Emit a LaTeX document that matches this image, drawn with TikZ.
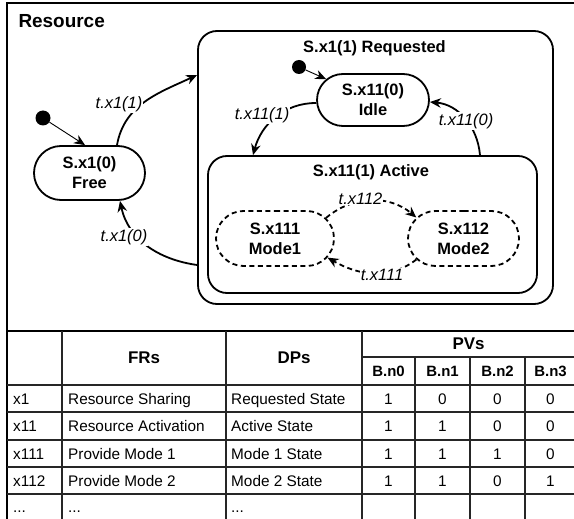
\documentclass[tikz,border=0pt]{standalone}
\usepackage{fontspec}
\setmainfont{Liberation Sans}
\usetikzlibrary{arrows.meta,calc,positioning,shapes.misc}
\definecolor{rsInk}{HTML}{000000}
\definecolor{rsGrid}{HTML}{262626}
\tikzset{
  rs frame/.style={draw=rsInk, line width=2.2bp},
  rs grid/.style={draw=rsGrid, line width=1.6bp},
  rs container/.style={draw=rsInk, line width=1.8bp, rounded corners=19bp, inner sep=0pt},
  rs state/.style={
    rounded rectangle,
    draw=rsInk,
    line width=1.8bp,
    inner sep=0pt,
    align=center,
    font=\bfseries\fontsize{16.5}{20}\selectfont
  },
  rs substate/.style={rs state, dash pattern=on 5bp off 3.5bp},
  rs initial/.style={circle, fill=rsInk, inner sep=0pt, minimum size=15bp},
  rs transition/.style={
    draw=rsInk,
    line width=1.8bp,
    -{Stealth[length=11bp,width=9.5bp]}
  },
  rs subtransition/.style={rs transition, dash pattern=on 5bp off 3.5bp},
  rs entry/.style={draw=rsInk, line width=0.9bp, -{Stealth[length=11bp,width=9.5bp]}},
  rs tlabel/.style={fill=white, inner sep=1bp, font=\itshape\fontsize{16.5}{20}\selectfont},
  rs title/.style={font=\bfseries\fontsize{19}{22}\selectfont},
  rs state title/.style={font=\bfseries\fontsize{16.5}{20}\selectfont},
  rs head/.style={font=\bfseries\fontsize{17}{20}\selectfont, inner sep=0pt},
  rs subhead/.style={font=\bfseries\fontsize{15}{18}\selectfont, text height=10.8bp, text depth=0pt, inner sep=0pt},
  rs cell/.style={font=\fontsize{15.4}{18}\selectfont, text height=11bp, text depth=0pt, inner sep=0pt}
}

\begin{document}
\begin{tikzpicture}[x=1bp,y=1bp]
  \useasboundingbox (0,0) rectangle (574,-519);
  % frame
  \draw[rs frame] (7,-525) -- (7,-3) -- (580,-3);
  \draw[rs frame] (7,-331) -- (580,-331);
  \node[rs title, anchor=base west] (title) at (15,-28) {Resource};

  % states
  \node[rs container, minimum width=355bp, minimum height=273bp] (requested) at (375.5,-167.5) {};
  \node[rs state title, anchor=base] (reqtitle) at (374.5,-53) {S.x1(1) Requested};
  \node[rs container, minimum width=329bp, minimum height=137bp] (active) at (372.5,-224.5) {};
  \node[rs state title, anchor=base] (acttitle) at (371,-177) {S.x11(1) Active};

  \node[rs state, minimum width=111bp, minimum height=54bp] (free) at (89.5,-173) {S.x1(0)\\Free};
  \node[rs state, minimum width=112bp, minimum height=52bp] (idle) at (373,-100) {S.x11(0)\\Idle};
  \node[rs substate, minimum width=118bp, minimum height=55bp] (mode1) at (275,-238.5) {S.x111\\Mode1};
  \node[rs substate, minimum width=111bp, minimum height=55bp] (mode2) at (463.5,-238.5) {S.x112\\Mode2};

  \node[rs initial] (init1) at (43,-118) {};
  \node[rs initial, minimum size=14bp] (init2) at (299,-67) {};
  \draw[rs entry] (init1) -- ([xshift=-4.5bp]free.north);
  \draw[rs entry] (init2) -- (idle);

  % transitions
  \draw[rs transition] ([xshift=27.5bp]free.north) to[out=80,in=205] ([yshift=92.5bp]requested.west);
  \node[rs tlabel] (tx1one) at (119,-104) {t.x1(1)};
  \draw[rs transition] ([yshift=-97.5bp]requested.west) to[out=172,in=-78] ([xshift=30.5bp]free.south);
  \node[rs tlabel] (tx1zero) at (124,-237) {t.x1(0)};
  \draw[rs transition] ([yshift=-3bp]idle.west) to[out=180,in=75] ([xshift=-119.5bp]active.north);
  \node[rs tlabel] (tx11one) at (262,-115) {t.x11(1)};
  \draw[rs transition] ([xshift=107.5bp]active.north) to[out=95,in=-5] ([yshift=-2bp]idle.east);
  \node[rs tlabel] (tx11zero) at (466,-121) {t.x11(0)};
  \draw[rs subtransition] (mode1.22) to[out=40,in=140] (mode2.156);
  \node[rs tlabel] (tx112) at (360.5,-198.5) {t.x112};
  \draw[rs subtransition] (mode2.204) to[out=-142,in=-30] (mode1.-20);
  \node[rs tlabel] (tx111) at (382,-275) {t.x111};

  % table grid
  \foreach \y in {385,412,440,467,494}
    \draw[rs grid] (7,-\y) -- (580,-\y);
  \draw[rs grid] (362,-357) -- (580,-357);
  \foreach \x in {62,226,362}
    \draw[rs grid] (\x,-331) -- (\x,-525);
  \foreach \x in {415,470,525}
    \draw[rs grid] (\x,-357) -- (\x,-525);

  % table text
  \node[rs head] (frs) at (144,-358) {FRs};
  \node[rs head] (dps) at (294,-358) {DPs};
  \node[rs head] (pvs) at (468.5,-344) {PVs};
  \node[rs subhead] (bn0) at (388.5,-371) {B.n0};
  \node[rs subhead] (bn1) at (442.5,-371) {B.n1};
  \node[rs subhead] (bn2) at (497.5,-371) {B.n2};
  \node[rs subhead] (bn3) at (550.5,-371) {B.n3};

  \foreach \y/\id/\frtext/\dptext/\va/\vb/\vc/\vd [count=\i] in {
    398.5/x1/Resource Sharing/Requested State/1/0/0/0,
    426/x11/Resource Activation/Active State/1/1/0/0,
    453.5/x111/Provide Mode 1/Mode 1 State/1/1/1/0,
    480.5/x112/Provide Mode 2/Mode 2 State/1/1/0/1}{
    \node[rs cell, anchor=west] (id\i) at (13,-\y) {\id};
    \node[rs cell, anchor=west] (fr\i) at (68,-\y) {\frtext};
    \node[rs cell, anchor=west] (dp\i) at (231,-\y) {\dptext};
    \node[rs cell] (pva\i) at (388.5,-\y) {\va};
    \node[rs cell] (pvb\i) at (442.5,-\y) {\vb};
    \node[rs cell] (pvc\i) at (497.5,-\y) {\vc};
    \node[rs cell] (pvd\i) at (550.5,-\y) {\vd};
  }
  \node[rs cell, anchor=west] (idmore) at (13,-507) {...};
  \node[rs cell, anchor=west] (frmore) at (68,-507) {...};
  \node[rs cell, anchor=west] (dpmore) at (231,-507) {...};
\end{tikzpicture}
\end{document}
